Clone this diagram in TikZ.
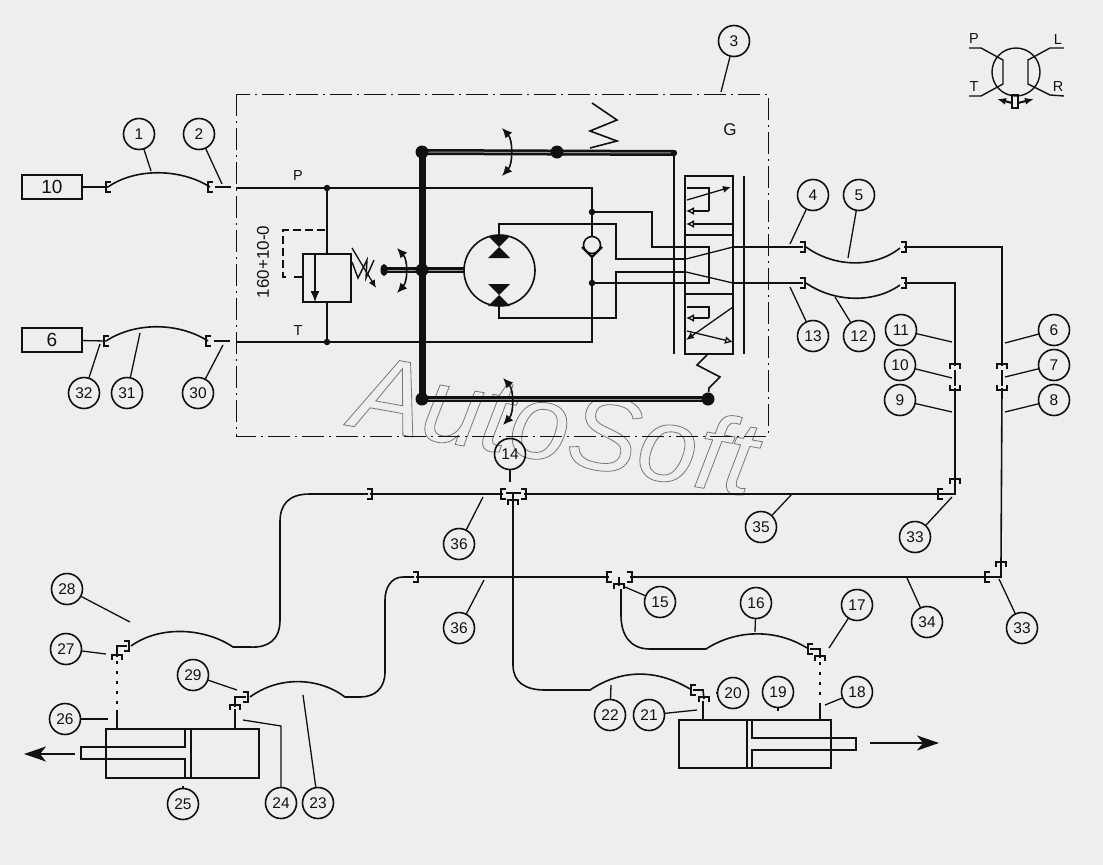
\documentclass[tikz,border=0pt]{standalone}
\usepackage{fontspec}
\setmainfont{Liberation Sans}
\usetikzlibrary{arrows.meta,calc}
\definecolor{paper}{HTML}{EEEEEE}
\definecolor{ink}{HTML}{111111}
\definecolor{wmark}{HTML}{777777}
\newcommand{\balloon}[4]{\node[balloon] (b#1) at (#2,#3) {#4};}
\newcommand{\lead}[3]{\coordinate (e#1) at (#2,#3); \draw[leaderline] (b#1) -- (e#1);}
\newcommand{\dbl}[1]{\draw[line width=6pt,ink] #1; \draw[line width=1pt,paper!60!ink] #1;}
\newcommand{\bidir}[3]{\coordinate (ba) at (#1,#2); \coordinate (bb) at (#1,#3);
  \draw[curvearrow] (ba) .. controls ($(ba)+(11,12)$) and ($(bb)+(11,-12)$) .. (bb);}
\tikzset{
  x=1pt,y=-1pt,
  pipe/.style={ink,line width=1.6pt},
  thinpipe/.style={ink,line width=1.3pt},
  balloon/.style={circle,draw=ink,line width=1.6pt,minimum size=31pt,inner sep=0pt,font=\fontsize{15.5}{16}\selectfont,text=ink},
  leaderline/.style={ink,line width=1.3pt,shorten <=-0.5pt},
  boxlabel/.style={draw=ink,line width=1.8pt,inner sep=0pt,font=\fontsize{19}{20}\selectfont,text=ink},
  tag/.style={inner sep=0pt,font=\fontsize{14.5}{15}\selectfont,text=ink},
  curvearrow/.style={ink,line width=1.6pt,{Latex[length=10pt,width=9pt]}-{Latex[length=10pt,width=9pt]}},
  solidtip/.style={ink,line width=1.3pt,-{Latex[length=8pt,width=7pt]}},
  opentip/.style={ink,line width=1.3pt,-{Latex[open,length=8pt,width=8pt]}},
  bigarrow/.style={ink,line width=1.8pt,-{Stealth[length=22pt,width=15pt,inset=6pt]}},
  brL/.pic={\draw[ink,line width=1.8pt] (3,-5)--(-2,-5)--(-2,5)--(3,5);},
  brR/.pic={\draw[ink,line width=1.8pt] (-3,-5)--(2,-5)--(2,5)--(-3,5);},
  brU/.pic={\draw[ink,line width=1.8pt] (-5,3)--(-5,-2)--(5,-2)--(5,3);},
  brD/.pic={\draw[ink,line width=1.8pt] (-5,-3)--(-5,2)--(5,2)--(5,-3);},
  dotS/.style={circle,fill=ink,inner sep=0pt,minimum size=6.5pt},
  dotL/.style={circle,fill=ink,inner sep=0pt,minimum size=13pt},
}
\begin{document}
\begin{tikzpicture}
\useasboundingbox (0,0) rectangle (1103,865);
\fill[paper] (0,0) rectangle (1103,865);

% watermark
\node[anchor=base,rotate=-10,inner sep=0pt,text=wmark,font=\fontsize{106}{106}\itshape] (wm) at (549,461)
  {\special{pdf:code q 1 Tr 0.8 w}AutoSoft\special{pdf:code Q}};

% frame
\draw[ink,line width=1pt,dash pattern=on 22pt off 5pt on 2pt off 5pt] (236,94) rectangle (768,436);

% input boxes
\node[boxlabel,minimum width=60pt,minimum height=24pt] (src10) at (52,187) {10};
\node[boxlabel,minimum width=60pt,minimum height=24pt] (src6) at (52,340) {6};

% fittings, top-left
\coordinate (f1) at (108,187); \coordinate (f2) at (210,187);
\coordinate (f32) at (106,341); \coordinate (f30) at (208,341);
\pic at (f1) {brL}; \pic at (f2) {brL}; \pic at (f32) {brL}; \pic at (f30) {brL};
\draw[thinpipe] (src10) -- (f1);
\draw[pipe] (f1) .. controls (135,168) and (180,168) .. (f2);
\coordinate (p00) at (215,187); \coordinate (p0) at (231,187); \draw[pipe] (p00) -- (p0);
\draw[thinpipe] (src6) -- (f32);
\draw[pipe] (f32) .. controls (135,322) and (178,322) .. (f30);
\coordinate (t00) at (214,341); \coordinate (t0) at (230,341); \draw[thinpipe] (t00) -- (t0);

% P and T lines
\coordinate (P1) at (236,188); \coordinate (Pn) at (327,188);
\coordinate (T1) at (236,342); \coordinate (Tn) at (327,342);
\coordinate (Pe) at (592,188); \coordinate (Te) at (592,342);
\draw[pipe] (P1) -- (Pn) -- (Pe) -- (592,237);
\draw[thinpipe] (T1) -- (Tn) -- (Te) -- (592,258);
\node[tag] (lp) at (298,176) {P};
\node[tag] (lt) at (298,331) {T};
\node[tag,font=\fontsize{17}{18}\selectfont] (lg) at (730,130) {G};
\node[tag,rotate=90,font=\fontsize{17}{18}\selectfont] (lr) at (263,262) {160+10-0};
\node[dotS] (dp) at (Pn) {}; \node[dotS] (dt) at (Tn) {};

% relief valve
\draw[ink,line width=1.7pt] (303,254) rectangle (351,302);
\draw[pipe] (dp) -- (327,254);
\draw[pipe] (327,302) -- (dt);
\draw[solidtip,-{Latex[length=11pt,width=9pt]}] (315,254) -- (315,302);
\draw[ink,line width=1.4pt,dash pattern=on 8pt off 4pt] (325,230) -- (283,230) -- (283,277) -- (288,277);
\draw[ink,line width=1.4pt] (294,277) -- (303,277);
\draw[solidtip] (352,248) -- (376,288);
\draw[ink,line width=1.4pt] (352,262) -- (358,278) -- (367,260) -- (366,278) -- (374,260);

% lever
\coordinate (LT) at (422,152); \coordinate (LB) at (422,399);
\coordinate (LM) at (422,270); \coordinate (LE) at (384,270);
\coordinate (TE) at (674,153); \coordinate (BE) at (708,399);
\dbl{(LT) -- (TE)} \dbl{(LB) -- (BE)} \dbl{(LE) -- (464,270)}
\draw[ink,line width=7pt] (LT) -- (LB);
\node[dotL] (n1) at (LT) {}; \node[dotL] (n2) at (LB) {}; \node[dotL] (n3) at (LM) {};
\node[dotL] (n4) at (557,152) {}; \node[dotL] (n5) at (BE) {};
\fill[ink] (384,270) ellipse (3.5 and 6);
\fill[ink] (TE) circle (3.2);
\draw[ink,line width=1.7pt] (TE) -- (674,354);
\draw[ink,line width=1.6pt] (n4) ++(33,-4) -- (617,141) -- (590,131) -- (617,120) -- (592,103);
\bidir{502}{128}{176}
\bidir{397}{248}{293}
\bidir{503}{378}{425}

% motor
\node[circle,draw=ink,line width=1.6pt,minimum size=71pt,inner sep=0pt] (motor) at (499.5,270.5) {};
\fill[ink] (488,236) -- (510,236) -- (488,258) -- (510,258) -- cycle;
\fill[ink] (488,284) -- (510,284) -- (488,306) -- (510,306) -- cycle;
\draw[thinpipe] (499,236) -- (499,224) -- (616,224) -- (616,259) -- (686,259);
\draw[thinpipe] (499,306) -- (499,318) -- (616,318) -- (616,272) -- (686,272);

% check valve
\node[circle,draw=ink,line width=1.6pt,minimum size=17pt,inner sep=0pt] (cv) at (592,245) {};
\draw[ink,line width=2.2pt] (582,247) -- (592,257) -- (602,247);
\node[dotS] (d1) at (592,212) {}; \node[dotS] (d2) at (592,283) {};

% valve block
\draw[ink,line width=1.7pt] (685,176) rectangle (733,354);
\draw[ink,line width=1.7pt] (685,235) -- (733,235);
\draw[ink,line width=1.7pt] (685,294) -- (733,294);
\draw[ink,line width=1.7pt] (744,176) -- (744,354);
\draw[thinpipe] (d1) -- (652,212) -- (652,247) -- (709,247) -- (709,283) -- (d2);
\draw[thinpipe] (733,283) -- (803,283);
\draw[thinpipe] (733,247) -- (803,247);
\draw[thinpipe] (686,259) -- (733,247);
\draw[thinpipe] (686,272) -- (733,283);
\draw[thinpipe] (687,188) -- (709,188) -- (709,211);
\draw[opentip] (709,211) -- (686,211);
\draw[opentip] (733,224) -- (686,224);
\draw[solidtip] (687,200) -- (731,187);
\draw[thinpipe] (687,307) -- (709,307) -- (709,318);
\draw[opentip] (709,318) -- (686,318);
\draw[solidtip] (733,307) -- (686,340);
\draw[opentip] (687,331) -- (733,342);
\draw[ink,line width=1.6pt] (707,355) -- (697,365) -- (720,377) -- (709,388) -- (n5);

% right pipes
\coordinate (f4) at (803,247); \coordinate (f5) at (904,247);
\coordinate (f13) at (803,283); \coordinate (f12) at (904,283);
\pic at (f4) {brR}; \pic at (f5) {brR}; \pic at (f13) {brR}; \pic at (f12) {brR};
\draw[pipe] (806,247) .. controls (835,268) and (875,268) .. (900,248);
\draw[pipe] (806,283) .. controls (835,303) and (875,303) .. (900,285);
\coordinate (c7a) at (1002,366); \coordinate (c7b) at (1002,388);
\coordinate (c10a) at (955,366); \coordinate (c10b) at (955,388);
\pic at (c7a) {brU}; \pic at (c7b) {brD}; \pic at (c10a) {brU}; \pic at (c10b) {brD};
\draw[thinpipe] (f5) -- (1002,247) -- (c7a);
\draw[thinpipe] (f12) -- (955,283) -- (c10a);
\draw[ink,line width=1.3pt] (1002,370) -- (1002,386);
\draw[ink,line width=1.3pt] (955,370) -- (955,386);
\coordinate (e33a) at (955,481); \coordinate (e33b) at (1001,564);
\pic at (e33a) {brU}; \pic at (e33b) {brU};
\draw[pipe] (c10b) -- (e33a);
\draw[pipe] (c7b) -- (e33b);
\coordinate (h33a) at (940,494); \coordinate (h33b) at (987,577);
\pic at (h33a) {brL}; \pic at (h33b) {brL};
\draw[pipe] (e33a) -- (955,494) -- (h33a);
\draw[pipe] (e33b) -- (1001,577) -- (h33b);

% T fitting 14
\coordinate (t14l) at (503,494); \coordinate (t14r) at (524,494); \coordinate (t14d) at (513,502);
\pic at (t14l) {brL}; \pic at (t14r) {brR}; \pic at (t14d) {brU};
\draw[ink,line width=2.5pt] (506,493) -- (521,493);
\draw[ink,line width=1.6pt] (513,493) -- (t14d);
\draw[pipe] (t14r) -- (h33a);
\coordinate (f28) at (370,494); \pic at (f28) {brR};
\draw[pipe] (t14l) -- (f28);
\coordinate (f27a) at (127,646); \coordinate (f27b) at (117,657);
\pic at (f27a) {brR}; \pic at (f27b) {brU};
\draw[pipe] (f27b) -- (117,646) -- (f27a);
\draw[pipe] (368,494) -- (310,494) .. controls (288,494) and (280,505) .. (280,522) -- (280,620)
  .. controls (280,640) and (268,648) .. (250,647) -- (233,647)
  .. controls (205,628) and (160,625) .. (131,646);

% pipe to right cylinder
\coordinate (f20a) at (693,690); \coordinate (f20b) at (704,699);
\pic at (f20a) {brL}; \pic at (f20b) {brU};
\draw[pipe] (f20a) -- (703,690) -- (f20b);
\draw[pipe] (t14d) -- (513,665) .. controls (513,682) and (525,690) .. (545,690) -- (590,690)
  .. controls (620,670) and (655,668) .. (690,689);
\draw[ink,line width=1.8pt] (703,701) -- (703,720);

% T fitting 15 and line 34/36
\coordinate (t15l) at (609,577); \coordinate (t15r) at (630,577); \coordinate (t15d) at (619,586);
\pic at (t15l) {brL}; \pic at (t15r) {brR}; \pic at (t15d) {brU};
\draw[ink,line width=1.6pt] (619,577) -- (t15d);
\draw[pipe] (t15r) -- (h33b);
\coordinate (f36) at (416,577); \pic at (f36) {brR};
\draw[pipe] (t15l) -- (f36);
\coordinate (f29a) at (246,697); \coordinate (f29b) at (235,707);
\pic at (f29a) {brR}; \pic at (f29b) {brU};
\draw[pipe] (f29b) -- (235,697) -- (f29a);
\draw[pipe] (414,577) -- (403,577) .. controls (391,577) and (385,588) .. (385,600) -- (385,672)
  .. controls (385,688) and (375,697) .. (360,697) -- (345,697)
  .. controls (320,678) and (280,675) .. (250,697);
\draw[ink,line width=1.7pt] (235,709) -- (235,729);

% branch to 17
\coordinate (f17a) at (810,649); \coordinate (f17b) at (820,658);
\pic at (f17a) {brL}; \pic at (f17b) {brU};
\draw[pipe] (f17a) -- (820,649) -- (f17b);
\draw[pipe] (621,589) -- (621,615) .. controls (621,635) and (630,649) .. (650,649) -- (706,649)
  .. controls (735,630) and (775,628) .. (807,648);
\draw[ink,line width=1.1pt,dash pattern=on 3pt off 7pt] (820,662) -- (820,702);
\draw[ink,line width=2.4pt] (820,703) -- (820,720);

% left cylinder
\draw[ink,line width=1.1pt,dash pattern=on 3pt off 7pt] (117,661) -- (117,708);
\draw[ink,line width=1.7pt] (117,710) -- (117,729);
\draw[ink,line width=1.8pt] (106,729) rectangle (259,778);
\draw[ink,line width=1.8pt] (185,729) -- (185,747) -- (81,747) -- (81,759) -- (185,759) -- (185,778);
\draw[ink,line width=2pt] (191,729) -- (191,778);
\coordinate (al) at (75,754); \coordinate (ar) at (24,754);
\draw[bigarrow] (al) -- (ar);

% right cylinder
\draw[ink,line width=1.8pt] (679,720) rectangle (831,768);
\draw[ink,line width=2pt] (747,720) -- (747,768);
\draw[ink,line width=1.8pt] (752,720) -- (752,738) -- (856,738) -- (856,750) -- (752,750) -- (752,768);
\coordinate (bl) at (870,743); \coordinate (br) at (939,743);
\draw[bigarrow] (bl) -- (br);

% port symbol
\draw[ink,line width=1.4pt] (1016,72) circle (24);
\fill[paper] (1003,60) rectangle (1028,84);
\draw[ink,line width=1.4pt] (969,48) -- (981,48) -- (1003,60) -- (1003,84) -- (981,96) -- (969,96);
\draw[ink,line width=1.4pt] (1064,48) -- (1050,48) -- (1028,60) -- (1028,84) -- (1050,95) -- (1064,96);
\draw[ink,line width=1.5pt] (1012,95) rectangle (1018,108);
\coordinate (sm) at (1015,100);
\draw[ink,line width=2pt,-{Latex[length=9pt,width=7pt]}] (sm) ++(-3,3) -- (997,99);
\draw[ink,line width=2pt,-{Latex[length=9pt,width=7pt]}] (sm) ++(3,3) -- (1034,99);
\node[tag] (sp) at (974,39) {P};
\node[tag] (sl) at (1058,40) {L};
\node[tag] (st) at (974,87) {T};
\node[tag] (sr) at (1058,87) {R};

% balloons and leaders
\balloon{1}{139}{134}{1}\lead{1}{151}{171}
\balloon{2}{199}{134}{2}\lead{2}{222}{184}
\balloon{3}{734}{41}{3}\lead{3}{721}{92}
\balloon{4}{813}{195}{4}\lead{4}{790}{244}
\balloon{5}{859}{195}{5}\lead{5}{848}{258}
\balloon{6}{1054}{330}{6}\lead{6}{1005}{343}
\balloon{7}{1054}{365}{7}\lead{7}{1005}{377}
\balloon{8}{1054}{400}{8}\lead{8}{1005}{412}
\balloon{9}{900}{400}{9}\lead{9}{952}{412}
\balloon{10}{900}{365}{10}\lead{10}{952}{378}
\balloon{11}{901}{330}{11}\lead{11}{952}{342}
\balloon{12}{859}{336}{12}\lead{12}{835}{297}
\balloon{13}{813}{336}{13}\lead{13}{790}{287}
\balloon{14}{510}{454}{14}\lead{14}{510}{482}
\balloon{15}{660}{602}{15}\lead{15}{625}{587}
\balloon{16}{756}{603}{16}\lead{16}{755}{632}
\balloon{17}{857}{605}{17}\lead{17}{829}{648}
\balloon{18}{857}{692}{18}\lead{18}{825}{705}
\balloon{19}{778}{692}{19}\lead{19}{778}{711}
\balloon{20}{733}{693}{20}\lead{20}{716}{693}
\balloon{21}{649}{715}{21}\lead{21}{697}{710}
\balloon{22}{610}{715}{22}\lead{22}{611}{685}
\balloon{23}{318}{803}{23}\lead{23}{303}{695}
\balloon{24}{281}{803}{24}
\coordinate (e24a) at (281,726); \coordinate (e24) at (243,720);
\draw[leaderline] (b24) -- (e24a) -- (e24);
\balloon{25}{183}{804}{25}\lead{25}{183}{786}
\balloon{26}{65}{719}{26}\lead{26}{108}{719}
\balloon{27}{66}{649}{27}\lead{27}{106}{654}
\balloon{28}{67}{589}{28}\lead{28}{130}{622}
\balloon{29}{193}{675}{29}\lead{29}{237}{690}
\balloon{30}{198}{393}{30}\lead{30}{223}{345}
\balloon{31}{127}{393}{31}\lead{31}{140}{333}
\balloon{32}{84}{393}{32}\lead{32}{100}{344}
\balloon{33}{915}{537}{33}\lead{33}{952}{497}
\node[balloon] (b33b) at (1022,628) {33}; \lead{33b}{999}{579}
\balloon{34}{927}{622}{34}\lead{34}{907}{578}
\balloon{35}{761}{527}{35}\lead{35}{792}{494}
\balloon{36}{459}{544}{36}\lead{36}{483}{497}
\node[balloon] (b36b) at (459,628) {36}; \lead{36b}{484}{580}
\end{tikzpicture}
\end{document}
